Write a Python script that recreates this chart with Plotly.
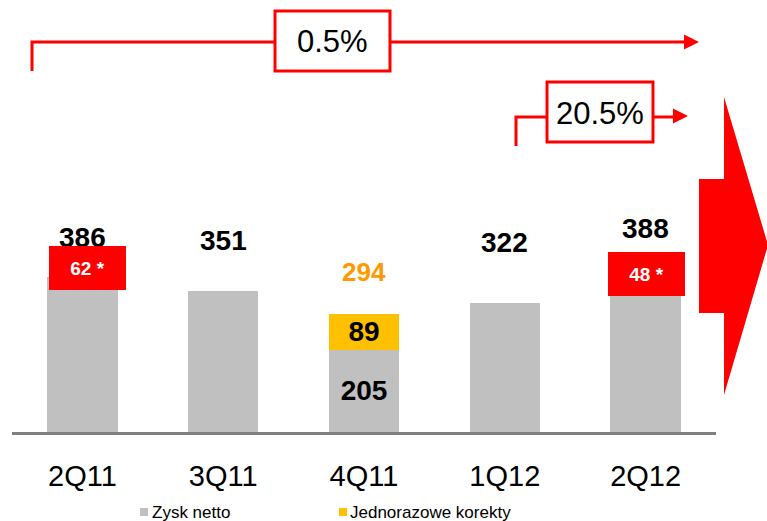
import plotly.graph_objects as go

categories = ["2Q11", "3Q11", "4Q11", "1Q12", "2Q12"]
zysk_netto = [386, 351, 205, 322, 388]
korekty = [0, 0, 89, 0, 0]
totals = [386, 351, 294, 322, 388]
one_off = {"2Q11": "62 *", "2Q12": "48 *"}
growth_labels = ["0.5%", "20.5%"]
legend_names = ["Zysk netto", "Jednorazowe korekty"]

FONT = "Liberation Sans, Arial, sans-serif"
GRAY = "#C0C0C0"
YELLOW = "#FFC000"
RED = "#FF0000"
ORANGE = "#FF9900"

W, H = 767, 521
ML, MR, MT, MB = 12, 51, 0, 89
PW = W - ML - MR
PH = H - MT - MB


def px(x):
    return (x - ML) / PW


def py(y):
    return (H - MB - y) / PH


fig = go.Figure()
fig.add_trace(go.Bar(
    x=categories, y=zysk_netto, name=legend_names[0],
    marker=dict(color=GRAY, line=dict(width=0)),
    text=[str(v) if k else "" for v, k in zip(zysk_netto, korekty)],
    textposition="inside", insidetextanchor="middle", constraintext="none",
    textfont=dict(family=FONT, size=28, color="black", weight="bold"),
    showlegend=False,
))
fig.add_trace(go.Bar(
    x=categories, y=korekty, name=legend_names[1],
    marker=dict(color=YELLOW, line=dict(width=0)),
    text=[str(k) if k else "" for k in korekty],
    textposition="inside", insidetextanchor="middle", constraintext="none",
    textfont=dict(family=FONT, size=28, color="black", weight="bold"),
    showlegend=False,
))

annotations = []
label_shift = [39.5, 50.7, 41.7, 60.7, 48]
for i, (c, t) in enumerate(zip(categories, totals)):
    is_adj = korekty[i] > 0
    annotations.append(dict(
        x=c, y=t, xref="x", yref="y", yshift=label_shift[i],
        text=f"<b>{t}</b>", showarrow=False, xanchor="center", yanchor="middle",
        font=dict(family=FONT, size=26 if is_adj else 28,
                  color=ORANGE if is_adj else "black"),
    ))

box_shift = {"2Q11": (4.9, 9), "2Q12": (0.5, 2.7)}
for c, txt in one_off.items():
    t = totals[categories.index(c)]
    xs, ys = box_shift[c]
    annotations.append(dict(
        x=c, y=t, xref="x", yref="y", xshift=xs, yshift=ys,
        text=f"<b>{txt}</b>", showarrow=False, xanchor="center", yanchor="middle",
        bgcolor=RED, width=77, height=44, borderpad=0, borderwidth=0,
        font=dict(family=FONT, size=19, color="white"),
    ))

# growth label texts
annotations.append(dict(x=px(332.5), y=py(42), xref="paper", yref="paper",
                        text=growth_labels[0], showarrow=False,
                        xanchor="center", yanchor="middle",
                        font=dict(family=FONT, size=31, color="black")))
annotations.append(dict(x=px(600), y=py(113), xref="paper", yref="paper",
                        text=growth_labels[1], showarrow=False,
                        xanchor="center", yanchor="middle",
                        font=dict(family=FONT, size=31, color="black")))

# manual legend
annotations.append(dict(x=px(150), y=py(512), xref="paper", yref="paper",
                        text=legend_names[0], showarrow=False, xanchor="left", yanchor="middle",
                        font=dict(family=FONT, size=17, color="black")))
annotations.append(dict(x=px(348), y=py(512), xref="paper", yref="paper",
                        text=legend_names[1], showarrow=False, xanchor="left", yanchor="middle",
                        font=dict(family=FONT, size=17, color="black")))

shapes = []


def path(points, closed=False):
    s = "M " + " L ".join(f"{px(x):.5f},{py(y):.5f}" for x, y in points)
    return s + (" Z" if closed else "")


line_style = dict(color=RED, width=3)
# 0.5% bracket arrow
shapes.append(dict(type="path", xref="paper", yref="paper",
                   path=path([(32, 71), (32, 42), (275, 42)]), line=line_style))
shapes.append(dict(type="path", xref="paper", yref="paper",
                   path=path([(390, 42), (686, 42)]), line=line_style))
shapes.append(dict(type="path", xref="paper", yref="paper",
                   path=path([(684, 34.5), (699, 42), (684, 49.5)], closed=True),
                   fillcolor=RED, line=dict(width=0)))
shapes.append(dict(type="rect", xref="paper", yref="paper",
                   x0=px(275), x1=px(390), y0=py(71), y1=py(11),
                   fillcolor="white", line=line_style))
# 20.5% bracket arrow
shapes.append(dict(type="path", xref="paper", yref="paper",
                   path=path([(516, 146), (516, 117), (547, 117)]), line=line_style))
shapes.append(dict(type="path", xref="paper", yref="paper",
                   path=path([(653, 117), (675, 117)]), line=line_style))
shapes.append(dict(type="path", xref="paper", yref="paper",
                   path=path([(673, 108.5), (688, 116), (673, 123.5)], closed=True),
                   fillcolor=RED, line=dict(width=0)))
shapes.append(dict(type="rect", xref="paper", yref="paper",
                   x0=px(547), x1=px(653), y0=py(142), y1=py(82),
                   fillcolor="white", line=line_style))
# big red arrow on the right
shapes.append(dict(type="path", xref="paper", yref="paper",
                   path=path([(699, 179), (724, 179), (724, 97), (768, 245),
                              (724, 395), (724, 313), (699, 313)], closed=True),
                   fillcolor=RED, line=dict(width=0)))
# legend squares
shapes.append(dict(type="rect", xref="paper", yref="paper",
                   x0=px(140), x1=px(148), y0=py(516), y1=py(508),
                   fillcolor=GRAY, line=dict(width=0)))
shapes.append(dict(type="rect", xref="paper", yref="paper",
                   x0=px(339), x1=px(347), y0=py(516), y1=py(508),
                   fillcolor=YELLOW, line=dict(width=0)))

fig.update_layout(
    width=W, height=H,
    margin=dict(l=ML, r=MR, t=MT, b=MB, pad=0),
    barmode="stack", bargap=0.5,
    plot_bgcolor="white", paper_bgcolor="white",
    font=dict(family=FONT),
    showlegend=False,
    annotations=annotations,
    shapes=shapes,
    xaxis=dict(type="category", range=[-0.5, 4.5], showline=True, linecolor="#808080",
               linewidth=3, ticks="", showgrid=False, zeroline=False,
               tickfont=dict(family=FONT, size=29, color="black"),
               ticklabelstandoff=16),
    yaxis=dict(visible=False, range=[0, 1076], showgrid=False, zeroline=False),
)

fig.write_html("out.html",
               config={"displayModeBar": False},
               post_script="document.body.style.margin='0';document.body.style.overflow='hidden';")
